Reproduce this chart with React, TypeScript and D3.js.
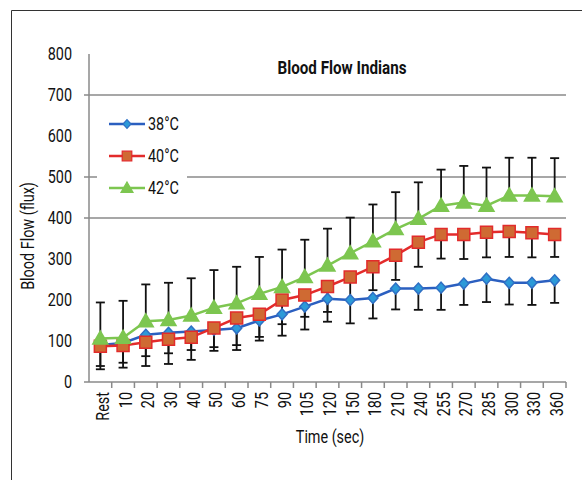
import React from "react";
import * as d3 from "d3";

const categories = ["Rest","10","20","30","40","50","60","75","90","105","120","150","180","210","240","255","270","285","300","330","360"];
const flow38 = [90,95,115,120,123,127,131,150,165,184,203,200,205,228,228,230,240,252,242,242,248];
const err38 = [51,48,52,50,45,51,53,49,52,56,56,57,50,51,52,54,52,57,53,54,55];
const flow40 = [87,89,97,104,109,132,156,165,200,212,233,256,281,309,341,360,360,365,367,364,360];
const err40 = [56,54,58,60,55,47,66,55,59,53,62,56,57,60,60,59,60,61,62,60,55];
const flow42 = [106,108,148,151,162,181,192,215,232,256,284,314,343,373,398,430,438,430,455,455,453];
const err42 = [88,90,90,91,91,92,89,90,91,91,90,87,90,90,89,88,89,93,92,92,93];
const seriesNames = ["38°C","40°C","42°C"];
const yTicks = [0,100,200,300,400,500,600,700,800];
const gridValues = [400,500,700];

const FONT = "Roboto,'Noto Sans',sans-serif";
const SX = 0.8;

const diamond = "M0,-5.5L5,0L0,5.5L-5,0Z";
const square = "M-6,-6H6V6H-6Z";
const triangle = "M0,-7.5L7.5,5.5L-7.5,5.5Z";

type TP = { x: number; y: number; rot?: number; anchor?: string; size: number; weight?: string; dy?: string; children: React.ReactNode };
function Txt({ x, y, rot = 0, anchor = "start", size, weight = "normal", dy = "0", children }: TP) {
  return (
    <text transform={`translate(${x},${y}) rotate(${rot}) scale(${SX},1)`} dy={dy} textAnchor={anchor} fontSize={size} fontWeight={weight} fill="#111">
      {children}
    </text>
  );
}

export default function App() {
  const x = d3.scaleBand<string>().domain(categories).range([89, 566]);
  const y = d3.scaleLinear().domain([0, 800]).range([382, 54]);
  const cx = (c: string) => (x(c) as number) + x.bandwidth() / 2;
  const line = d3.line<number>().x((_, i) => cx(categories[i])).y((v) => y(v));

  const series = [
    { name: seriesNames[0], vals: flow38, err: err38, dir: -1, line: "#2b5fc0", fill: "#2c9ad8", stroke: "#2f6fc4", shape: diamond },
    { name: seriesNames[1], vals: flow40, err: err40, dir: -1, line: "#e32b2b", fill: "#cf6a33", stroke: "#e22b2b", shape: square },
    { name: seriesNames[2], vals: flow42, err: err42, dir: 1, line: "#7dc650", fill: "#7dc650", stroke: "#7dc650", shape: triangle },
  ];

  return (
    <svg width={582} height={480} style={{ position: "absolute", left: 0, top: 0, background: "#fff" }} fontFamily={FONT}>
      <rect x={0} y={0} width={582} height={480} fill="#fff" />
      <path d="M11.5,480V10.5H582" fill="none" stroke="#333" strokeWidth={1} />
      {gridValues.map((g) => (
        <line key={g} x1={84} x2={566} y1={y(g)} y2={y(g)} stroke="#8a8a8a" strokeWidth={1.5} />
      ))}
      <line x1={89} x2={89} y1={y(800)} y2={y(0)} stroke="#8a8a8a" strokeWidth={1.5} />
      <line x1={84} x2={566} y1={y(0)} y2={y(0)} stroke="#8a8a8a" strokeWidth={1.5} />
      {categories.map((c, i) => (
        <line key={"t" + i} x1={(x(c) as number) + x.bandwidth()} x2={(x(c) as number) + x.bandwidth()} y1={y(0)} y2={y(0) + 6} stroke="#8a8a8a" strokeWidth={1.5} />
      ))}
      {yTicks.map((t) => (
        <Txt key={t} x={72} y={y(t)} dy="0.36em" anchor="end" size={18}>{t}</Txt>
      ))}
      {categories.map((c) => (
        <Txt key={"l" + c} x={cx(c) + 2} y={392} rot={-90} dy="0.36em" anchor="end" size={18}>{c}</Txt>
      ))}
      <Txt x={28} y={236} rot={-90} dy="0.36em" anchor="middle" size={18}>Blood Flow (flux)</Txt>
      <Txt x={330} y={443} anchor="middle" size={18}>Time (sec)</Txt>
      <Txt x={342} y={74} anchor="middle" size={19} weight="bold">Blood Flow Indians</Txt>
      {series.map((s) =>
        s.vals.map((v, i) => {
          const px = cx(categories[i]);
          const end = y(v + s.dir * s.err[i]);
          return (
            <g key={s.name + i} stroke="#111" strokeWidth={1.8}>
              <line x1={px} x2={px} y1={y(v)} y2={end} />
              <line x1={px - 4.5} x2={px + 4.5} y1={end} y2={end} />
            </g>
          );
        })
      )}
      {series.map((s) => (
        <g key={s.name}>
          <path d={line(s.vals) as string} fill="none" stroke={s.line} strokeWidth={2.5} />
          {s.vals.map((v, i) => (
            <path key={i} d={s.shape} transform={`translate(${cx(categories[i])},${y(v)})`} fill={s.fill} stroke={s.stroke} strokeWidth={1.5} />
          ))}
        </g>
      ))}
      <rect x={97} y={103} width={90} height={100} fill="#fff" />
      {series.map((s, i) => {
        const ly = 124 + i * 32;
        return (
          <g key={"lg" + i}>
            <line x1={109} x2={145} y1={ly} y2={ly} stroke={s.line} strokeWidth={2.5} />
            <path d={s.shape} transform={`translate(127,${ly}) scale(0.8)`} fill={s.fill} stroke={s.stroke} strokeWidth={1.5} />
            <Txt x={148} y={ly} dy="0.36em" size={18}>{s.name}</Txt>
          </g>
        );
      })}
    </svg>
  );
}
